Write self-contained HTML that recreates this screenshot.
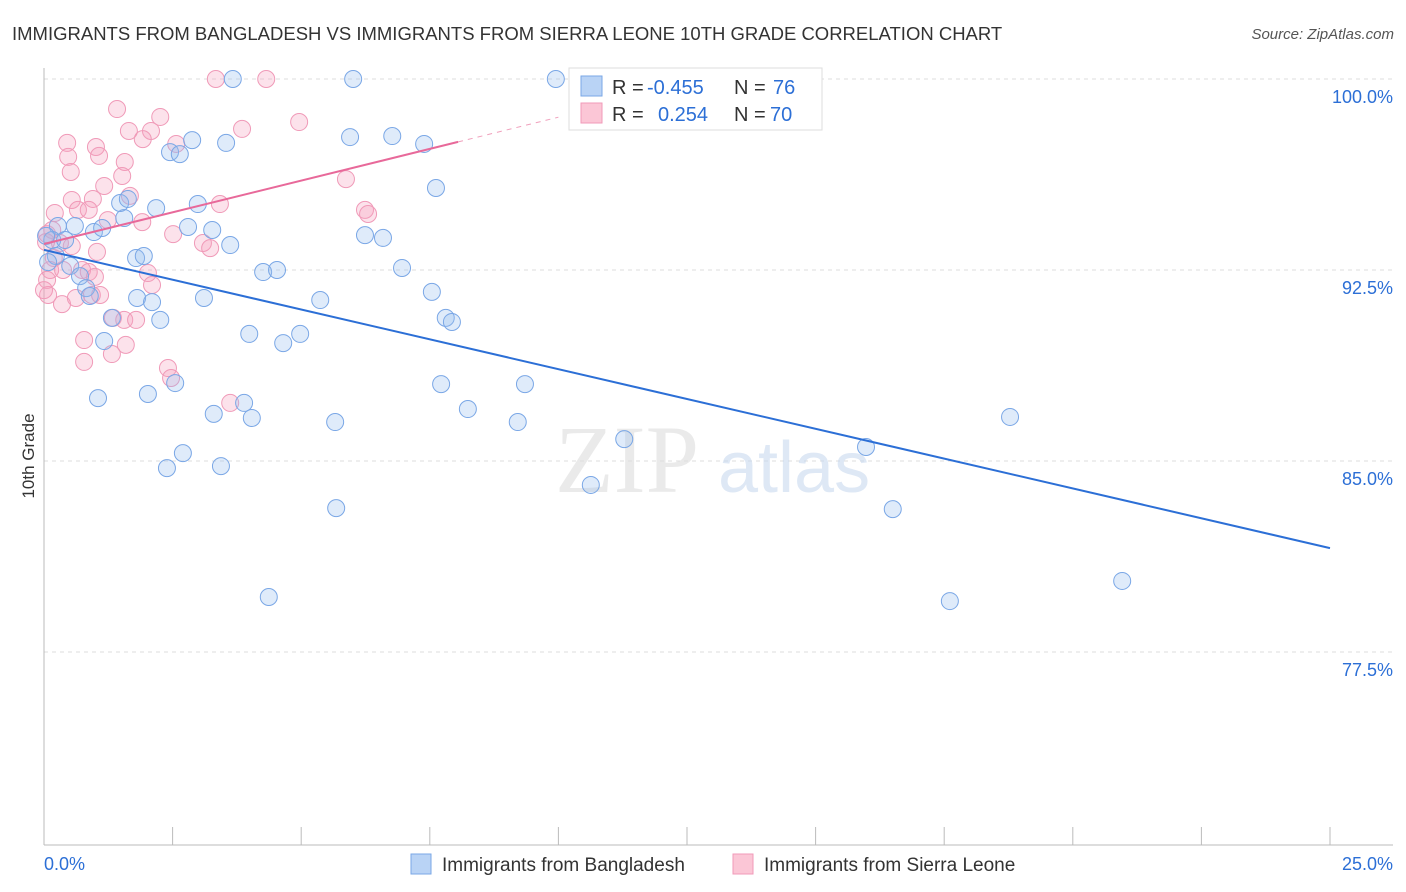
<!DOCTYPE html>
<html><head><meta charset="utf-8"><style>
body{margin:0;background:#fff;font-family:"Liberation Sans",sans-serif;}
svg{display:block}
</style></head><body>
<svg id="chart" width="1406" height="892">
<text x="12" y="40" font-size="18.5" fill="#333">IMMIGRANTS FROM BANGLADESH VS IMMIGRANTS FROM SIERRA LEONE 10TH GRADE CORRELATION CHART</text>
<text x="1394" y="39" font-size="15" fill="#555" font-style="italic" text-anchor="end">Source: ZipAtlas.com</text>
<text x="34" y="456" font-size="17" fill="#333" text-anchor="middle" transform="rotate(-90 34 456)">10th Grade</text>
<g id="grid"></g>
<g><text x="555" y="492" font-size="96" fill="#ddd" font-family="Liberation Serif,serif" opacity="0.6">ZIP</text><text x="718" y="492" font-size="72" fill="#c9d9ef" opacity="0.6">atlas</text></g>
<g id="pts"></g>
<g id="lines"></g>
<g>
<rect x="569" y="68" width="253" height="62" fill="#fff" stroke="#ddd"/>
<rect x="581" y="76" width="21" height="20" fill="#b9d3f5" stroke="#7aa7e6"/>
<rect x="581" y="103" width="21" height="20" fill="#fbc6d6" stroke="#f09ab8"/>
<text x="612" y="94" font-size="20" fill="#333">R =</text>
<text x="647" y="94" font-size="20" fill="#2c6fd6">-0.455</text>
<text x="734" y="94" font-size="20" fill="#333">N =</text>
<text x="773" y="94" font-size="20" fill="#2c6fd6">76</text>
<text x="612" y="121" font-size="20" fill="#333">R =</text>
<text x="658" y="121" font-size="20" fill="#2c6fd6">0.254</text>
<text x="734" y="121" font-size="20" fill="#333">N =</text>
<text x="770" y="121" font-size="20" fill="#2c6fd6">70</text>
</g>
<g>
<rect x="411" y="854" width="20" height="20" fill="#b9d3f5" stroke="#7aa7e6"/>
<text x="442" y="871" font-size="19" fill="#333">Immigrants from Bangladesh</text>
<rect x="733" y="854" width="20" height="20" fill="#fbc6d6" stroke="#f09ab8"/>
<text x="764" y="871" font-size="19" fill="#333">Immigrants from Sierra Leone</text>
</g>
</svg>
<script>
const blueX=[3.67,6.01,9.95,2.88,3.54,2.45,2.64,5.95,6.77,7.39,7.62,2.99,2.18,1.56,1.48,1.63,0.27,0.60,0.97,1.13,2.80,3.27,3.62,0.16,0.41,0.04,0.23,0.08,0.51,0.70,0.82,0.89,1.79,1.94,6.24,6.59,4.26,4.53,6.96,1.81,2.10,3.11,5.37,7.54,1.32,2.26,7.81,7.93,3.99,4.98,4.65,1.17,2.55,2.02,1.05,3.89,7.72,9.35,3.30,4.04,8.24,5.66,9.21,11.28,2.70,2.39,3.44,15.98,18.78,5.68,10.63,16.50,4.37,20.96,17.61];
const blueY=[100,100,100,97.60,97.49,97.13,97.05,97.72,97.76,97.45,95.72,95.09,94.93,94.54,95.13,95.29,94.23,94.23,93.99,94.15,94.19,94.07,93.48,93.68,93.68,93.84,93.05,92.81,92.66,92.26,91.79,91.48,92.97,93.05,93.87,93.76,92.42,92.50,92.58,91.40,91.24,91.40,91.32,91.64,90.62,90.54,90.62,90.46,89.99,89.99,89.63,89.71,88.06,87.63,87.47,87.28,88.02,88.02,86.85,86.69,87.04,86.53,86.53,85.86,85.31,84.72,84.80,85.55,86.73,83.15,84.06,83.11,79.66,80.29,79.50];
const pinkX=[3.34,4.32,1.42,2.26,0.45,1.01,1.65,2.08,1.92,2.57,3.85,4.96,0.47,1.07,1.57,0.52,1.52,1.17,0.54,0.95,1.67,0.66,0.87,0.21,1.24,1.91,3.42,5.87,6.24,6.30,2.51,3.09,3.23,0.06,0.31,0.54,1.03,0.19,0.12,0.37,0.74,0.87,0.99,2.02,2.10,0.06,0.08,0.35,0.62,0.93,1.09,1.34,1.56,1.79,0.78,1.59,1.32,0.78,2.41,2.47,3.62,0.16,0.04,0];
const pinkY=[100,100,98.82,98.51,97.49,97.33,97.96,97.96,97.64,97.45,98.04,98.31,96.94,96.98,96.74,96.35,96.19,95.80,95.25,95.29,95.41,94.86,94.86,94.74,94.46,94.38,95.09,96.07,94.86,94.70,93.91,93.56,93.36,93.91,93.56,93.44,93.21,92.97,92.50,92.50,92.50,92.42,92.23,92.38,91.91,92.11,91.52,91.16,91.40,91.52,91.52,90.62,90.54,90.54,89.75,89.56,89.20,88.89,88.65,88.26,87.28,94.07,93.60,91.71];
const yTicks=[100,92.5,85,77.5];
const yTickLabels=["100.0%","92.5%","85.0%","77.5%"];
const blueTrend=[93.29,81.58];
const pinkTrend=[93.52,97.53,98.5];
const pinkTrendX=[0,8.05,10];
const NS="http://www.w3.org/2000/svg";
const X=v=>44+v/25*1286, Y=v=>79+(100-v)/7.5*191;
function mk(tag,attrs,parent){const e=document.createElementNS(NS,tag);for(const k in attrs)e.setAttribute(k,attrs[k]);parent.appendChild(e);return e;}
const grid=document.getElementById('grid');
yTicks.forEach((t,i)=>{
 const l=mk('line',{x1:44,x2:1393,y1:Y(t),y2:Y(t),stroke:'#ddd','stroke-dasharray':'4,4'},grid);
 
 
 const tx=mk('text',{x:1393,y:Y(t)+24,'font-size':18,fill:'#2c6fd6','text-anchor':'end'},grid);
 tx.textContent=yTickLabels[i];
 
 
});
mk('line',{x1:44,x2:44,y1:68,y2:845,stroke:'#bbb'},grid);
mk('line',{x1:44,x2:1393,y1:845,y2:845,stroke:'#bbb'},grid);
for(let i=0;i<=10;i++){const x=X(i*2.5);const t=mk('line',{x1:x,x2:x,y1:827,y2:845,stroke:'#bbb'},grid);
 
 }
const xl0=mk('text',{x:44,y:870,'font-size':18,fill:'#2c6fd6'},grid);xl0.textContent='0.0%';


const xl1=mk('text',{x:1393,y:870,'font-size':18,fill:'#2c6fd6','text-anchor':'end'},grid);xl1.textContent='25.0%';


const pts=document.getElementById('pts');
pinkX.forEach((x,i)=>{const c=mk('circle',{cx:X(x),cy:Y(pinkY[i]),r:8.5,fill:'rgba(245,160,190,0.3)',stroke:'#f09ab8','stroke-width':1},pts);
 
 });
blueX.forEach((x,i)=>{const c=mk('circle',{cx:X(x),cy:Y(blueY[i]),r:8.5,fill:'rgba(150,190,240,0.3)',stroke:'#7aa7e6','stroke-width':1},pts);
 
 });
const lines=document.getElementById('lines');
const bl=mk('line',{x1:X(0),y1:Y(blueTrend[0]),x2:X(25),y2:Y(blueTrend[1]),stroke:'#2c6fd6','stroke-width':2},lines);


const pl=mk('line',{x1:X(pinkTrendX[0]),y1:Y(pinkTrend[0]),x2:X(pinkTrendX[1]),y2:Y(pinkTrend[1]),stroke:'#e8699a','stroke-width':2},lines);


const pd=mk('line',{x1:X(pinkTrendX[1]),y1:Y(pinkTrend[1]),x2:X(pinkTrendX[2]),y2:Y(pinkTrend[2]),stroke:'#f0a0bc','stroke-width':1,'stroke-dasharray':'5,5'},lines);


</script>
</body></html>
